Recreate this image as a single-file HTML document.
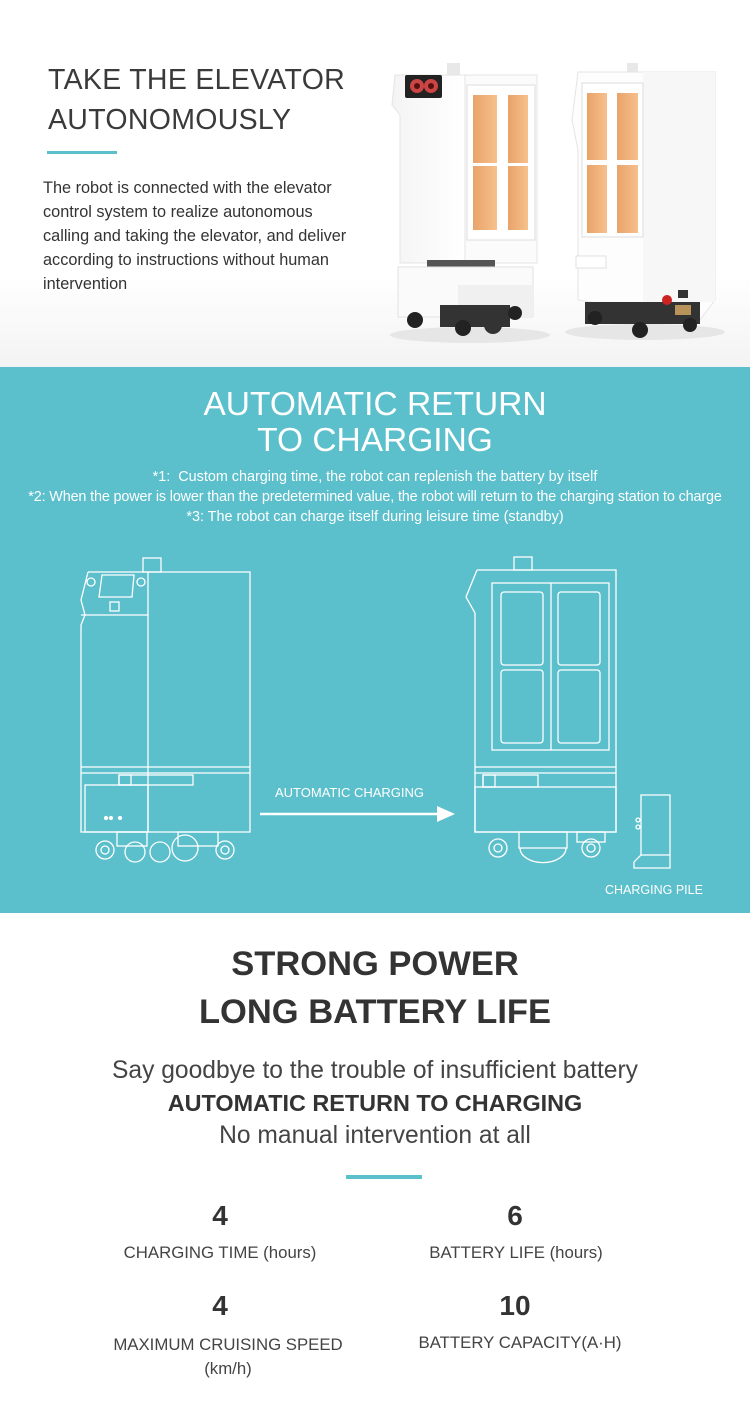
<!DOCTYPE html>
<html><head><meta charset="utf-8"><style>
*{margin:0;padding:0;box-sizing:border-box}
body{width:750px;height:1407px;position:relative;background:#fff;font-family:"Liberation Sans",sans-serif;overflow:hidden;color:#333}
.a{position:absolute;white-space:nowrap}
.c{position:absolute;left:0;width:750px;text-align:center;white-space:nowrap}
</style></head><body>
<div style="position:absolute;left:0;top:0;width:750px;height:367px;background:linear-gradient(180deg,#fff 0%,#fff 75%,#f3f3f3 100%)"></div>
<div class="a" style="left:48px;top:60px;font-size:28.5px;line-height:40px;color:#3a3a3a;letter-spacing:0.3px">TAKE THE ELEVATOR<br>AUTONOMOUSLY</div>
<div class="a" style="left:47px;top:151px;width:70px;height:3px;background:#5bbfcc"></div>
<div class="a" style="left:43px;top:176px;font-size:16.3px;line-height:24px;color:#333">The robot is connected with the elevator<br>control system to realize autonomous<br>calling and taking the elevator, and deliver<br>according to instructions without human<br>intervention</div>

<svg class="a" style="left:0;top:0" width="750" height="367">
 <defs><linearGradient id="or" x1="0" x2="1"><stop offset="0" stop-color="#e9a36a"/><stop offset="1" stop-color="#f6c08c"/></linearGradient>
 <linearGradient id="wb" x1="0" x2="1"><stop offset="0" stop-color="#f4f4f4"/><stop offset="1" stop-color="#fff"/></linearGradient></defs>
 <ellipse cx="470" cy="335" rx="80" ry="8" fill="#e6e6e6"/>
 <ellipse cx="645" cy="332" rx="80" ry="8" fill="#e6e6e6"/>
 <rect x="447" y="63" width="13" height="12" fill="#e8e8e8"/>
 <polygon points="395,75 465,75 465,263 400,263 400,115 392,105" fill="url(#wb)" stroke="#e4e4e4"/>
 <rect x="465" y="75" width="72" height="188" fill="#fbfbfb" stroke="#e4e4e4"/>
 <rect x="405" y="75" width="37" height="23" rx="2" fill="#222"/>
 <circle cx="417" cy="86" r="7" fill="#c44" /><circle cx="431" cy="86" r="7" fill="#c44"/>
 <circle cx="417" cy="86" r="3" fill="#511"/><circle cx="431" cy="86" r="3" fill="#511"/>
 <rect x="467" y="85" width="68" height="155" fill="#fff" stroke="#ddd"/>
 <rect x="473" y="95" width="24" height="68" fill="url(#or)"/><rect x="508" y="95" width="20" height="68" fill="url(#or)"/>
 <rect x="473" y="166" width="24" height="64" fill="url(#or)"/><rect x="508" y="166" width="20" height="64" fill="url(#or)"/>
 <rect x="427" y="260" width="68" height="14" fill="#555"/>
 <rect x="398" y="267" width="135" height="50" fill="#fafafa" stroke="#e2e2e2"/>
 <rect x="458" y="285" width="75" height="32" fill="#f0f0f0"/>
 <rect x="440" y="305" width="70" height="22" fill="#333"/>
 <circle cx="415" cy="320" r="8" fill="#222"/><circle cx="463" cy="328" r="8" fill="#222"/><circle cx="493" cy="325" r="9" fill="#333"/><circle cx="515" cy="313" r="7" fill="#222"/>
 <rect x="627" y="63" width="11" height="10" fill="#e8e8e8"/>
 <polygon points="578,72 715,72 715,300 700,320 578,300 578,150 572,120" fill="#fdfdfd" stroke="#e4e4e4"/>
 <rect x="643" y="72" width="72" height="230" fill="#f7f7f7"/>
 <rect x="582" y="83" width="61" height="154" fill="#fff" stroke="#ddd"/>
 <rect x="587" y="93" width="20" height="67" fill="url(#or)"/><rect x="617" y="93" width="21" height="67" fill="url(#or)"/>
 <rect x="587" y="165" width="20" height="68" fill="url(#or)"/><rect x="617" y="165" width="21" height="68" fill="url(#or)"/>
 <rect x="576" y="256" width="30" height="12" fill="#fff" stroke="#e0e0e0"/>
 <rect x="585" y="302" width="115" height="22" fill="#333"/>
 <circle cx="667" cy="300" r="5" fill="#c22"/><rect x="678" y="290" width="10" height="8" fill="#333"/>
 <rect x="675" y="305" width="16" height="10" fill="#b8935a"/>
 <circle cx="595" cy="318" r="7" fill="#222"/><circle cx="640" cy="330" r="8" fill="#222"/><circle cx="690" cy="325" r="7" fill="#222"/>
</svg>

<div style="position:absolute;left:0;top:367px;width:750px;height:546px;background:#5bbfcc"></div>
<div class="c" style="top:387px;font-size:33.5px;line-height:36px;color:#fff">AUTOMATIC RETURN<br>TO CHARGING</div>
<div class="c" style="top:467px;font-size:14.4px;line-height:20px;color:#fff">*1:&nbsp; Custom charging time, the robot can replenish the battery by itself<br><span style="letter-spacing:-0.15px">*2: When the power is lower than the predetermined value, the robot will return to the charging station to charge</span><br>*3: The robot can charge itself during leisure time (standby)</div>

<svg class="a" style="left:0;top:367px" width="750" height="546" fill="none" stroke="#fff" stroke-width="1.3">
 <g transform="translate(0,-367)">
 <rect x="143" y="558" width="18" height="14"/>
 <polyline points="88,572 250,572 250,832 81,832 81,625 85,615 81,600 88,572"/>
 <polyline points="81,615 148,615 148,572"/>
 <polygon points="102,575 134,575 132,597 99,597"/>
 <rect x="110" y="602" width="9" height="9"/>
 <circle cx="91" cy="582" r="4"/><circle cx="141" cy="582" r="4"/>
 <line x1="148" y1="615" x2="148" y2="832"/>
 <line x1="81" y1="767" x2="250" y2="767"/><line x1="81" y1="773" x2="250" y2="773"/>
 <rect x="119" y="775" width="74" height="10"/><rect x="119" y="775" width="12" height="10"/>
 <rect x="85" y="785" width="63" height="47"/>
 <circle cx="106" cy="818" r="1.5" fill="#fff"/><circle cx="111" cy="818" r="1.5" fill="#fff"/><circle cx="120" cy="818" r="1.5" fill="#fff"/>
 <rect x="117" y="832" width="30" height="14"/><rect x="178" y="832" width="40" height="14"/>
 <circle cx="105" cy="850" r="9"/><circle cx="105" cy="850" r="4"/>
 <circle cx="135" cy="852" r="10"/><circle cx="160" cy="852" r="10"/><circle cx="185" cy="848" r="13"/>
 <circle cx="225" cy="850" r="9"/><circle cx="225" cy="850" r="4"/>
 <line x1="260" y1="814" x2="440" y2="814" stroke-width="2.5"/>
 <polygon points="437,806 455,814 437,822" fill="#fff" stroke="none"/>
 <rect x="514" y="557" width="18" height="13"/>
 <polyline points="477,570 616,570 616,832 475,832 475,613 466,597 477,570"/>
 <rect x="492" y="583" width="117" height="167"/>
 <line x1="551" y1="583" x2="551" y2="750"/>
 <rect x="501" y="592" width="42" height="73" rx="3"/><rect x="558" y="592" width="42" height="73" rx="3"/>
 <rect x="501" y="670" width="42" height="73" rx="3"/><rect x="558" y="670" width="42" height="73" rx="3"/>
 <line x1="475" y1="767" x2="616" y2="767"/><line x1="475" y1="773" x2="616" y2="773"/>
 <rect x="483" y="775" width="55" height="12"/><rect x="483" y="775" width="12" height="12"/>
 <rect x="475" y="787" width="141" height="45"/>
 <rect x="519" y="832" width="48" height="16"/>
 <circle cx="498" cy="848" r="9"/><circle cx="498" cy="848" r="4"/>
 <path d="M520 848 A22 14 0 0 0 566 848"/>
 <circle cx="591" cy="848" r="9"/><circle cx="591" cy="848" r="4"/>
 <rect x="577" y="832" width="28" height="10"/>
 <polyline points="641,855 641,795 670,795 670,868 634,868 634,862 641,855"/>
 <line x1="641" y1="855" x2="670" y2="855"/>
 <circle cx="638" cy="820" r="2"/><circle cx="638" cy="827" r="2"/>
 </g>
</svg>
<div class="a" style="left:275px;top:785px;font-size:13px;color:#fff">AUTOMATIC CHARGING</div>
<div class="a" style="left:605px;top:883px;font-size:12.5px;color:#fff">CHARGING PILE</div>

<div class="c" style="top:940px;font-size:34.5px;line-height:48px;font-weight:bold;color:#333">STRONG POWER<br>LONG BATTERY LIFE</div>
<div class="c" style="top:1055px;font-size:24.6px;line-height:32px;color:#444">Say goodbye to the trouble of insufficient battery<br><b style="font-size:23.4px;color:#333">AUTOMATIC RETURN TO CHARGING</b><br>No manual intervention at all</div>
<div class="a" style="left:346px;top:1175px;width:76px;height:4px;background:#5bbfcc"></div>

<div class="a" style="left:120px;width:200px;top:1200px;text-align:center;font-size:28px;font-weight:bold">4</div>
<div class="a" style="left:415px;width:200px;top:1200px;text-align:center;font-size:28px;font-weight:bold">6</div>
<div class="a" style="left:90px;width:260px;top:1243px;text-align:center;font-size:16.8px;color:#444">CHARGING TIME (hours)</div>
<div class="a" style="left:396px;width:240px;top:1243px;text-align:center;font-size:16.8px;color:#444">BATTERY LIFE (hours)</div>
<div class="a" style="left:120px;width:200px;top:1290px;text-align:center;font-size:28px;font-weight:bold">4</div>
<div class="a" style="left:415px;width:200px;top:1290px;text-align:center;font-size:28px;font-weight:bold">10</div>
<div class="a" style="left:88px;width:280px;top:1333px;text-align:center;font-size:16.8px;line-height:24px;color:#444">MAXIMUM CRUISING SPEED<br>(km/h)</div>
<div class="a" style="left:390px;width:260px;top:1333px;text-align:center;font-size:16.8px;color:#444">BATTERY CAPACITY(A·H)</div>
</body></html>
